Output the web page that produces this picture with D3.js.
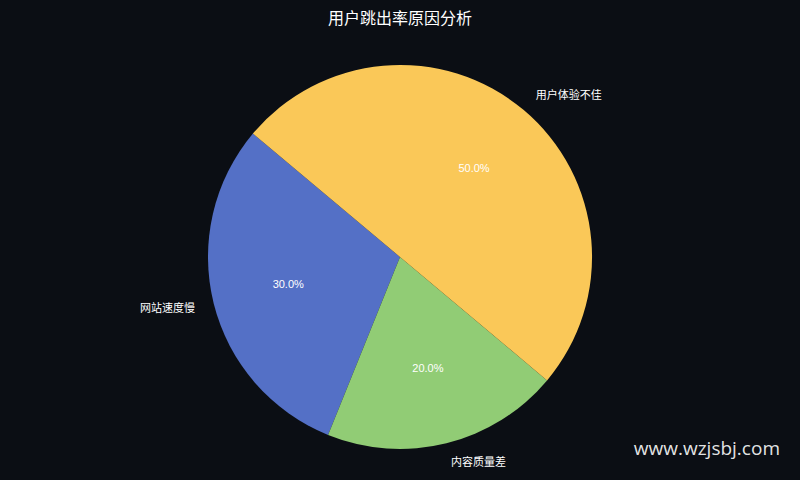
<!DOCTYPE html>
<html>
<head>
<meta charset="utf-8">
<script src="https://cdn.jsdelivr.net/npm/d3@7"></script>
<style>
  html, body { margin: 0; padding: 0; background: #0b0e14; }
  svg { display: block; }
</style>
</head>
<body>
<svg id="chart" width="800" height="480"></svg>
<script>
// data
var categories = ['网站速度慢', '内容质量差', '用户体验不佳'];
var shares = [30, 20, 50];
var colors = ['#5470c6', '#91cc75', '#fac858'];

var width = 800, height = 480;
var cx = 400, cy = 257, radius = 192;
var startDeg = 140; // counter-clockwise from 3 o'clock, like matplotlib

var svg = d3.select('#chart');
svg.append('rect').attr('width', width).attr('height', height).attr('fill', '#0b0e14');

svg.append('text')
  .attr('x', width / 2).attr('y', 24)
  .attr('text-anchor', 'middle')
  .attr('fill', '#ffffff')
  .attr('font-family', 'Noto Sans CJK SC, sans-serif')
  .attr('font-size', 16)
  .text('用户跳出率原因分析');

// d3 angles are clockwise from 12 o'clock; map the ccw layout onto that
var toD3 = function (deg) { return (90 - deg) * Math.PI / 180; };
var total = d3.sum(shares);
var angleScale = d3.scaleLinear().domain([0, total]).range([startDeg, startDeg + 360]);

var acc = 0;
var slices = shares.map(function (v, i) {
  var a0 = angleScale(acc), a1 = angleScale(acc + v);
  acc += v;
  return { name: categories[i], value: v, color: colors[i], a0: a0, a1: a1, mid: (a0 + a1) / 2 };
});

var arc = d3.arc().innerRadius(0).outerRadius(radius);
var g = svg.append('g').attr('transform', 'translate(' + cx + ',' + cy + ')');

g.selectAll('path').data(slices).enter().append('path')
  .attr('d', function (d) {
    return arc({ startAngle: toD3(d.a1), endAngle: toD3(d.a0) });
  })
  .attr('fill', function (d) { return d.color; });

// category labels outside
g.selectAll('text.lbl').data(slices).enter().append('text')
  .attr('class', 'lbl')
  .attr('x', function (d) { return Math.cos(d.mid * Math.PI / 180) * radius * 1.1; })
  .attr('y', function (d) { return -Math.sin(d.mid * Math.PI / 180) * radius * 1.1; })
  .attr('dy', '0.35em')
  .attr('text-anchor', function (d) { return Math.cos(d.mid * Math.PI / 180) > 0 ? 'start' : 'end'; })
  .attr('fill', '#ffffff')
  .attr('font-family', 'Noto Sans CJK SC, sans-serif')
  .attr('font-size', 11)
  .text(function (d) { return d.name; });

// percentages inside
g.selectAll('text.pct').data(slices).enter().append('text')
  .attr('class', 'pct')
  .attr('x', function (d) { return Math.cos(d.mid * Math.PI / 180) * radius * 0.6; })
  .attr('y', function (d) { return -Math.sin(d.mid * Math.PI / 180) * radius * 0.6; })
  .attr('dy', '0.3em')
  .attr('text-anchor', 'middle')
  .attr('fill', '#ffffff')
  .attr('font-family', 'Liberation Sans, Arial, sans-serif')
  .attr('font-size', 11)
  .text(function (d) { return (d.value / total * 100).toFixed(1) + '%'; });

// watermark
svg.append('text')
  .attr('x', 780).attr('y', 455)
  .attr('text-anchor', 'end')
  .attr('fill', '#ffffff')
  .attr('fill-opacity', 0.9)
  .attr('font-family', 'Open Sans, sans-serif')
  .attr('font-size', 19)
  .text('www.wzjsbj.com');
</script>
</body>
</html>
